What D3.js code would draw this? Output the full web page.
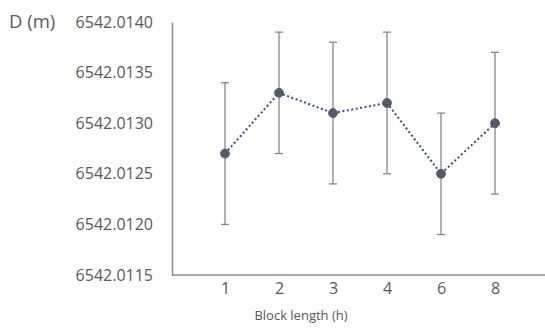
<!DOCTYPE html>
<html><head><meta charset="utf-8">
<script src="https://cdn.jsdelivr.net/npm/d3@7"></script>
<style>body{margin:0;background:#fff}svg{display:block}text{font-family:"Open Sans","Liberation Sans",Arial,sans-serif}</style>
</head><body><svg id="c" width="545" height="329"></svg>
<script>
const categories = ["1","2","3","4","6","8"];
const values = [6542.0127, 6542.0133, 6542.0131, 6542.0132, 6542.0125, 6542.0130];
const upper  = [6542.0134, 6542.0139, 6542.0138, 6542.0139, 6542.0131, 6542.0137];
const lower  = [6542.0120, 6542.0127, 6542.0124, 6542.0125, 6542.0119, 6542.0123];
const yTicks = [6542.0115, 6542.0120, 6542.0125, 6542.0130, 6542.0135, 6542.0140];

const svg = d3.select("#c");
const x0 = 172, x1 = 545, yTop = 22, yBot = 275;
const x = d3.scalePoint().domain(categories).range([225, 495]);
const y = d3.scaleLinear().domain([6542.0115, 6542.0140]).range([yBot, yTop]);
const grey = "#595959";

// y axis
const ya = svg.append("g").attr("transform", `translate(${x0},0)`)
  .call(d3.axisLeft(y).tickValues(yTicks).tickFormat(d3.format(".4f")).tickSize(0).tickPadding(19));
ya.select(".domain").attr("stroke", "#8c8c8c").attr("stroke-width", 1.5);
ya.selectAll("text").attr("fill", grey).attr("font-size", 16);

// x axis
const xa = svg.append("g").attr("transform", `translate(0,${yBot})`)
  .call(d3.axisBottom(x).tickSize(0).tickPadding(8));
xa.select(".domain").remove();
xa.selectAll("text").attr("fill", grey).attr("font-size", 16);
svg.append("line").attr("x1", x0).attr("x2", x1).attr("y1", yBot).attr("y2", yBot)
  .attr("stroke", "#8c8c8c").attr("stroke-width", 1.5);

// titles
svg.append("text").attr("x", 9).attr("y", y(6542.0140)).attr("dy", "0.32em")
  .attr("fill", grey).attr("font-size", 18.5).text("D (m)");
svg.append("text").attr("x", 301).attr("y", 320).attr("text-anchor", "middle")
  .attr("fill", grey).attr("font-size", 13).text("Block length (h)");

// error bars
const eb = svg.append("g").attr("stroke", "#7f7f7f").attr("stroke-width", 1.2);
categories.forEach((c, i) => {
  const cx = x(c);
  eb.append("line").attr("x1", cx).attr("x2", cx).attr("y1", y(upper[i])).attr("y2", y(lower[i]));
  eb.append("line").attr("x1", cx - 4).attr("x2", cx + 4).attr("y1", y(upper[i])).attr("y2", y(upper[i]));
  eb.append("line").attr("x1", cx - 4).attr("x2", cx + 4).attr("y1", y(lower[i])).attr("y2", y(lower[i]));
});

// line
const line = d3.line().x((d, i) => x(categories[i])).y(d => y(d));
svg.append("path").datum(values).attr("d", line).attr("fill", "none")
  .attr("stroke", "#2f4f8f").attr("stroke-width", 2).attr("stroke-dasharray", "2,2.5");

// markers
svg.append("g").selectAll("circle").data(values).join("circle")
  .attr("cx", (d, i) => x(categories[i])).attr("cy", d => y(d)).attr("r", 4.5)
  .attr("fill", "#555a66").attr("stroke", "#4a5a80").attr("stroke-width", 0.8);
</script></body></html>
